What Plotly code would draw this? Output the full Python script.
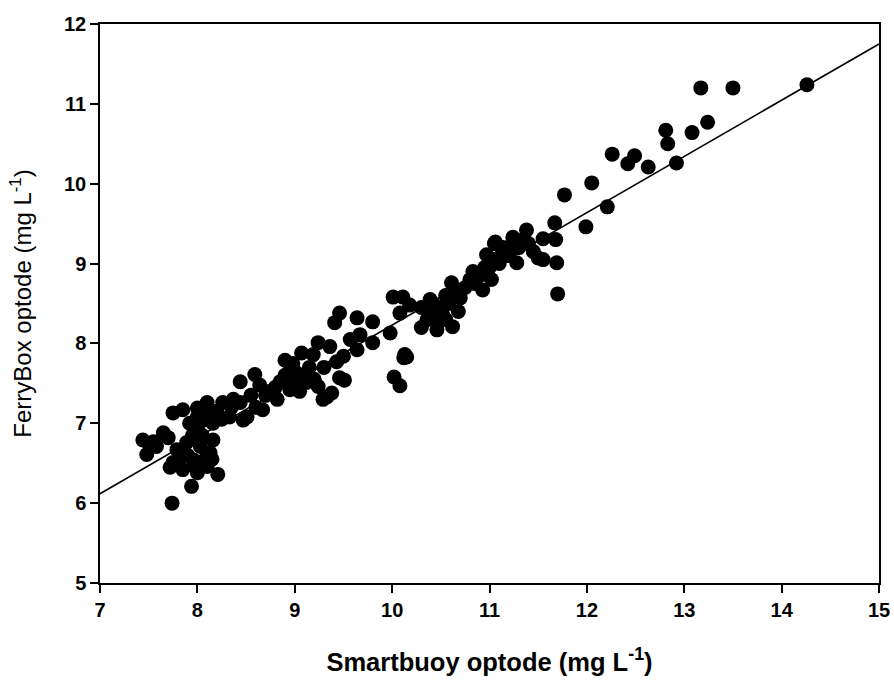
import plotly.graph_objects as go

# Smartbuoy (x) vs FerryBox (y) optode oxygen, mg L-1
smartbuoy = [
    14.26, 13.17, 13.50, 13.24, 13.08, 12.81, 12.83, 12.92, 12.63, 12.49, 12.42, 12.26,
    12.05, 11.77, 12.21, 11.67, 11.99, 11.55, 11.68, 11.55, 11.69, 11.70,
    11.38, 11.06, 11.24, 11.28, 11.50, 10.97, 10.83, 10.61, 10.93, 10.70, 10.39, 10.36,
    10.46, 10.62, 10.01, 10.11, 10.18, 10.08, 9.98, 10.13, 10.52, 11.03, 11.14,
    10.30, 10.42, 10.50, 10.55, 10.65, 10.75, 10.80, 10.90, 11.00, 11.10, 11.20, 11.30,
    11.35, 11.40, 11.20, 10.95, 10.85, 10.58, 10.48, 10.40, 10.30, 10.55, 10.68, 11.12,
    11.02, 11.05, 11.45,
    9.46, 9.64, 9.80, 9.41, 9.57, 9.67, 9.64, 9.80, 9.24, 9.36, 9.07, 9.19, 8.90, 9.43,
    9.46, 9.02, 9.10, 9.24, 9.38, 9.29, 8.44, 8.59, 8.64, 8.85, 8.95, 8.75, 8.82, 8.67,
    8.44, 8.51, 8.37, 10.02, 10.08, 10.12, 10.15, 9.50, 9.51, 9.12, 9.33,
    8.95, 9.00, 8.80, 8.70, 8.90, 9.15, 9.05, 8.60, 8.55, 9.30, 8.98, 9.20,
    7.74, 7.94, 8.21, 7.44, 7.48, 7.65, 7.58, 7.75, 7.85, 8.00, 8.10, 8.26, 8.47, 8.33,
    8.16, 8.00, 7.89, 8.03, 8.13, 7.75, 7.85, 8.00, 7.79, 7.96, 8.10, 8.16, 8.06, 7.92,
    7.51, 7.70, 7.55, 8.05, 8.20, 7.95, 7.90, 8.08, 7.83, 8.00, 8.12, 8.25, 7.98, 8.15,
    7.72, 8.35,
]
ferrybox = [
    11.24, 11.20, 11.20, 10.77, 10.64, 10.67, 10.50, 10.26, 10.21, 10.35, 10.25, 10.37,
    10.01, 9.86, 9.71, 9.51, 9.46, 9.31, 9.30, 9.05, 9.01, 8.62,
    9.42, 9.27, 9.33, 9.01, 9.07, 9.11, 8.90, 8.76, 8.67, 8.57, 8.55, 8.30,
    8.17, 8.21, 8.58, 8.58, 8.48, 8.38, 8.13, 7.86, 8.36, 9.05, 9.20,
    8.45, 8.50, 8.45, 8.60, 8.65, 8.70, 8.80, 8.85, 8.95, 9.00, 9.10, 9.20,
    9.30, 9.25, 9.20, 8.95, 8.75, 8.50, 8.28, 8.40, 8.20, 8.30, 8.40, 9.10,
    8.80, 9.25, 9.15,
    8.38, 8.32, 8.27, 8.26, 8.05, 8.11, 7.92, 8.01, 8.01, 7.96, 7.88, 7.86, 7.79, 7.77,
    7.57, 7.63, 7.57, 7.46, 7.38, 7.30, 7.52, 7.61, 7.48, 7.52, 7.42, 7.40, 7.30, 7.17,
    7.26, 7.08, 7.30, 7.58, 7.47, 7.82, 7.83, 7.84, 7.54, 7.51, 7.33,
    7.65, 7.50, 7.45, 7.35, 7.60, 7.70, 7.40, 7.20, 7.35, 7.70, 7.75, 7.55,
    6.00, 6.21, 6.36, 6.79, 6.61, 6.88, 6.71, 7.13, 7.17, 7.19, 7.26, 7.26, 7.04, 7.08,
    7.00, 6.92, 6.76, 6.71, 6.63, 6.51, 6.42, 6.38, 6.67, 6.54, 6.46, 6.79, 7.04, 7.00,
    6.73, 6.82, 6.77, 6.85, 7.15, 6.85, 6.60, 6.55, 6.58, 7.08, 7.12, 7.05, 6.45, 6.55,
    6.45, 7.20,
]

# Regression line
fit_slope = 0.704
fit_intercept = 1.19
fit_x = [7, 15]
fit_y = [fit_intercept + fit_slope * v for v in fit_x]

x_ticks = [7, 8, 9, 10, 11, 12, 13, 14, 15]
y_ticks = [5, 6, 7, 8, 9, 10, 11, 12]

fig = go.Figure()
fig.add_trace(go.Scatter(
    x=fit_x, y=fit_y, mode="lines",
    line=dict(color="black", width=1.6), showlegend=False, hoverinfo="skip",
))
fig.add_trace(go.Scatter(
    x=smartbuoy, y=ferrybox, mode="markers",
    marker=dict(color="black", size=15, line=dict(width=0)), showlegend=False,
))

font_family = "Liberation Sans, Arial, sans-serif"
fig.update_layout(
    width=894, height=680,
    margin=dict(l=100, r=15, t=24, b=97),
    plot_bgcolor="white", paper_bgcolor="white",
    font=dict(family=font_family, color="black"),
)
fig.update_xaxes(
    range=[7, 15], tickvals=x_ticks, ticktext=[f"<b>{v}</b>" for v in x_ticks],
    ticks="outside", ticklen=8, tickwidth=1.5, tickcolor="black",
    showline=True, linecolor="black", linewidth=1.5, mirror=True,
    showgrid=False, zeroline=False, automargin=False,
    tickfont=dict(size=20, family=font_family, color="black"),
    title=dict(text="<b>Smartbuoy optode (mg L<sup>-1</sup>)</b>",
               font=dict(size=25.5, family=font_family, color="black"), standoff=33),
)
fig.update_yaxes(
    range=[5, 12], tickvals=y_ticks, ticktext=[f"<b>{v}</b>" for v in y_ticks],
    ticks="outside", ticklen=8, tickwidth=1.5, tickcolor="black",
    showline=True, linecolor="black", linewidth=1.5, mirror=True,
    showgrid=False, zeroline=False, automargin=False,
    tickfont=dict(size=20, family=font_family, color="black"),
    title=dict(text="FerryBox optode (mg L<sup>-1</sup>)",
               font=dict(size=24, family=font_family, color="black"), standoff=26),
)

fig.write_html("out.html")
